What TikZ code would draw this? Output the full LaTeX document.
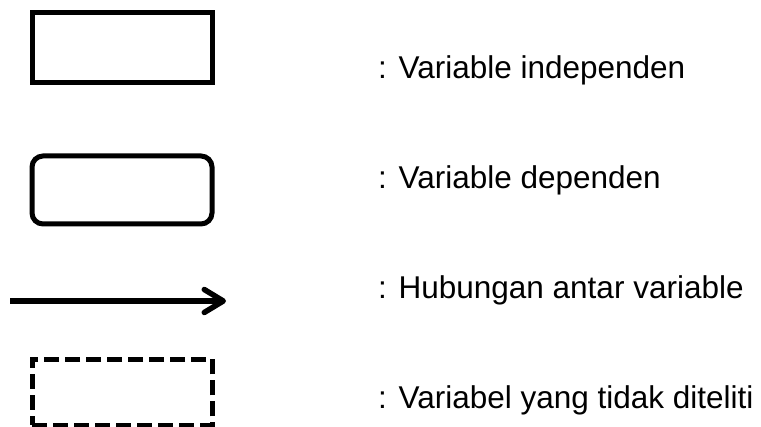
\documentclass[tikz,border=0pt]{standalone}
\usepackage{fontspec}
\setmainfont{Liberation Sans}
\usetikzlibrary{arrows.meta,positioning}
\tikzset{
  box/.style    ={draw=black,line width=5pt,minimum width=180pt,inner sep=0pt},
  indep/.style  ={box,minimum height=70pt},
  dep/.style    ={box,minimum height=68pt,rounded corners=11pt},
  unobs/.style  ={box,minimum height=66pt,dash pattern=on 15pt off 6pt},
  link/.style   ={-{Straight Barb[length=19pt,width=23pt,line cap=round,line join=round]},
                  line width=5.5pt,draw=black},
  lbl/.style    ={anchor=base west,inner sep=0pt,font=\fontsize{31.5}{36}\selectfont},
}
\begin{document}
\begin{tikzpicture}[x=1pt,y=-1pt]
\useasboundingbox (0,0) rectangle (761,427);

% legend symbols
\node[indep] (indep) at (122.5,47.5) {};
\node[dep]   (dep)   at (122,190)    {};
\coordinate (from) at (10,301);
\coordinate (to)   at (226,301);
\draw[link] (from) -- (to);
\node[unobs] (unobs) at (122,392.5) {};

% legend texts
\node[lbl] (tIndep) at (378,79)  {: Variable independen};
\node[lbl] (tDep)   at (378,189) {: Variable dependen};
\node[lbl] (tLink)  at (378,299) {: Hubungan antar variable};
\node[lbl] (tUnobs) at (378,409) {: Variabel yang tidak diteliti};
\end{tikzpicture}
\end{document}
